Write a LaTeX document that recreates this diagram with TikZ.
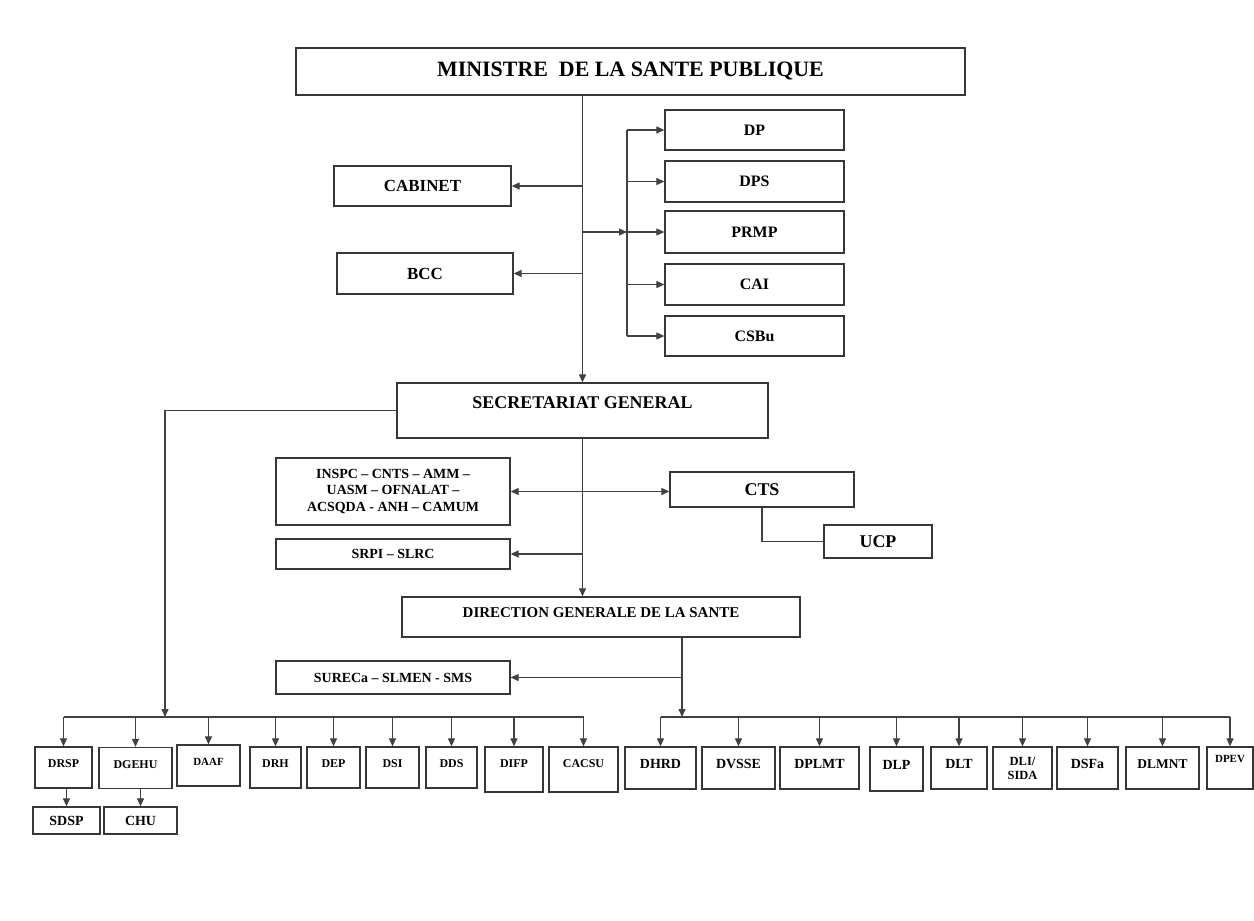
\documentclass[tikz,border=0pt]{standalone}
\usepackage{fontspec}
\setmainfont{Liberation Serif}
\usepackage{tikz}
\usetikzlibrary{arrows.meta,positioning,calc}
\definecolor{mydark}{RGB}{55,55,55}
\definecolor{myline}{RGB}{65,65,65}

\begin{document}
\begin{tikzpicture}[x=1bp, y=-1bp,
      wh/.style 2 args={minimum width=#1bp, minimum height=#2bp},
      box/.style={draw=mydark, line width=1.3bp, fill=white, inner sep=0pt,
                  align=center, font=\bfseries},
      head/.style={box, font=\fontsize{22}{24}\selectfont\bfseries},
      side/.style={box, font=\fontsize{17}{20}\selectfont\bfseries},
      staff/.style={box, font=\fontsize{16}{19}\selectfont\bfseries},
      sgbox/.style={box, font=\fontsize{18}{21}\selectfont\bfseries,
                  text height=12bp, text depth=16bp},
      dgbox/.style={box, font=\fontsize{15}{18}\selectfont\bfseries,
                  text height=11bp, text depth=10bp},
      agency/.style={box, font=\fontsize{14}{17}\selectfont\bfseries},
      council/.style={box, font=\fontsize{18}{21}\selectfont\bfseries},
      unitL/.style={box, font=\fontsize{12}{14}\selectfont\bfseries,
                  text height=9bp, text depth=9bp},
      unitR/.style={box, font=\fontsize{14}{16}\selectfont\bfseries,
                  text height=9bp, text depth=9bp},
      subunit/.style={box, font=\fontsize{14}{16}\selectfont\bfseries},
      arr/.style={-{Triangle[length=8bp,width=7bp]}, line width=1.2bp, draw=myline},
      arrboth/.style={arr, {Triangle[length=8bp,width=7bp]}-{Triangle[length=8bp,width=7bp]}},
      link/.style={line width=1.2bp, draw=myline}
    ]
    \path[use as bounding box, fill=white] (0,0) rectangle (1254,921);

    \node[head, wh={669}{47}] (min) at (630.5,71.5) {MINISTRE\ \ DE LA SANTE PUBLIQUE};
    \node[side, wh={177}{40}] (cab) at (422.5,186) {CABINET};
    \node[side, wh={176}{41}] (bcc) at (425,273.5) {BCC};
    \node[staff, wh={179}{40}] (dp) at (754.5,130) {DP};
    \node[staff, wh={179}{41}] (dps) at (754.5,181.5) {DPS};
    \node[staff, wh={179}{42}] (prmp) at (754.5,232) {PRMP};
    \node[staff, wh={179}{41}] (cai) at (754.5,284.5) {CAI};
    \node[staff, wh={179}{40}] (csbu) at (754.5,336) {CSBu};
    \node[sgbox, wh={371}{55}] (sg) at (582.5,410.5) {SECRETARIAT GENERAL};
    \node[agency, wh={234}{67}, font=\fontsize{14}{17}\selectfont\bfseries] (inspc) at (393,491.5)
      {INSPC -- CNTS -- AMM --\\ UASM -- OFNALAT --\\ ACSQDA - ANH -- CAMUM};
    \node[council, wh={184}{35}] (cts) at (762,489.5) {CTS};
    \node[council, wh={108}{33}] (ucp) at (878,541.5) {UCP};
    \node[agency, wh={234}{30}] (srpi) at (393,554) {SRPI -- SLRC};
    \node[dgbox, wh={398}{40}] (dgs) at (601,617) {DIRECTION GENERALE DE LA SANTE};
    \node[agency, wh={234}{33}] (sureca) at (393,677.5) {SURECa -- SLMEN - SMS};

    \node[unitL, wh={57}{41}] (drsp) at (63.5,767.5) {DRSP};
    \node[unitL, wh={73}{41}] (dgehu) at (135.5,768) {DGEHU};
    \node[unitL, wh={63}{41}, font=\fontsize{11}{13}\selectfont\bfseries] (daaf) at (208.5,765.5) {DAAF};
    \node[unitL, wh={51}{41}] (drh) at (275.5,767.5) {DRH};
    \node[unitL, wh={53}{41}] (dep) at (333.5,767.5) {DEP};
    \node[unitL, wh={53}{41}] (dsi) at (392.5,767.5) {DSI};
    \node[unitL, wh={51}{41}] (dds) at (451.5,767.5) {DDS};
    \node[unitL, wh={58}{45}, text depth=13bp] (difp) at (514,769.5) {DIFP};
    \node[unitL, wh={69}{45}, text depth=13bp] (cacsu) at (583.5,769.5) {CACSU};
    \node[subunit, wh={67}{27}] (sdsp) at (66.5,820.5) {SDSP};
    \node[subunit, wh={73}{27}] (chu) at (140.5,820.5) {CHU};

    \node[unitR, wh={71}{42}] (dhrd) at (660.5,768) {DHRD};
    \node[unitR, wh={73}{42}] (dvsse) at (738.5,768) {DVSSE};
    \node[unitR, wh={79}{42}] (dplmt) at (819.5,768) {DPLMT};
    \node[unitR, wh={53}{44}] (dlp) at (896.5,769) {DLP};
    \node[unitR, wh={56}{42}] (dlt) at (959,768) {DLT};
    \node[box, wh={59}{42}, font=\fontsize{12.5}{14}\selectfont\bfseries] (dli) at (1022.5,768) {DLI/\\SIDA};
    \node[unitR, wh={61}{42}] (dsfa) at (1087.5,768) {DSFa};
    \node[unitR, wh={73}{42}, font=\fontsize{13.5}{16}\selectfont\bfseries] (dlmnt) at (1162.5,768) {DLMNT};
    \node[unitR, wh={46}{42}, font=\fontsize{11}{13}\selectfont\bfseries, text depth=21bp] (dpev) at (1230,768) {DPEV};

    \coordinate (br) at (627,232);
    \coordinate (barL) at (165,717);
    \coordinate (barR) at (682,717);

    \draw[arr] (min.south -| sg.north) -- (sg.north);
    \draw[arr] (sg.north |- cab.east) -- (cab.east);
    \draw[arr] (sg.north |- bcc.east) -- (bcc.east);
    \draw[arr] (sg.north |- br) -- (br);
    \draw[link] (br |- dp.west) -- (br |- csbu.west);
    \draw[arr] (br |- dp.west) -- (dp.west);
    \draw[arr] (br |- dps.west) -- (dps.west);
    \draw[arr] (br |- prmp.west) -- (prmp.west);
    \draw[arr] (br |- cai.west) -- (cai.west);
    \draw[arr] (br |- csbu.west) -- (csbu.west);

    \draw[arr] (sg.west) -| (barL);
    \draw[arr] (sg.south) -- (sg.south |- dgs.north);
    \draw[arrboth] (inspc.east) -- (inspc.east -| cts.west);
    \draw[link] (cts.south) |- (ucp.west);
    \draw[arr] (sg.south |- srpi.east) -- (srpi.east);
    \draw[arr] (dgs.south -| barR) -- (barR);
    \draw[arr] (barR |- sureca.east) -- (sureca.east);

    \draw[link] (drsp.north |- barL) -- (cacsu.north |- barL);
    \draw[arr] (drsp.north |- barL) -- (drsp.north);
    \draw[arr] (dgehu.north |- barL) -- (dgehu.north);
    \draw[arr] (daaf.north |- barL) -- (daaf.north);
    \draw[arr] (drh.north |- barL) -- (drh.north);
    \draw[arr] (dep.north |- barL) -- (dep.north);
    \draw[arr] (dsi.north |- barL) -- (dsi.north);
    \draw[arr] (dds.north |- barL) -- (dds.north);
    \draw[arr] (difp.north |- barL) -- (difp.north);
    \draw[arr] (cacsu.north |- barL) -- (cacsu.north);
    \draw[arr] (sdsp.north |- drsp.south) -- (sdsp.north);
    \draw[arr] (chu.north |- dgehu.south) -- (chu.north);

    \draw[link] (dhrd.north |- barR) -- (dpev.north |- barR);
    \draw[arr] (dhrd.north |- barR) -- (dhrd.north);
    \draw[arr] (dvsse.north |- barR) -- (dvsse.north);
    \draw[arr] (dplmt.north |- barR) -- (dplmt.north);
    \draw[arr] (dlp.north |- barR) -- (dlp.north);
    \draw[arr] (dlt.north |- barR) -- (dlt.north);
    \draw[arr] (dli.north |- barR) -- (dli.north);
    \draw[arr] (dsfa.north |- barR) -- (dsfa.north);
    \draw[arr] (dlmnt.north |- barR) -- (dlmnt.north);
    \draw[arr] (dpev.north |- barR) -- (dpev.north);
  \end{tikzpicture}
\end{document}
